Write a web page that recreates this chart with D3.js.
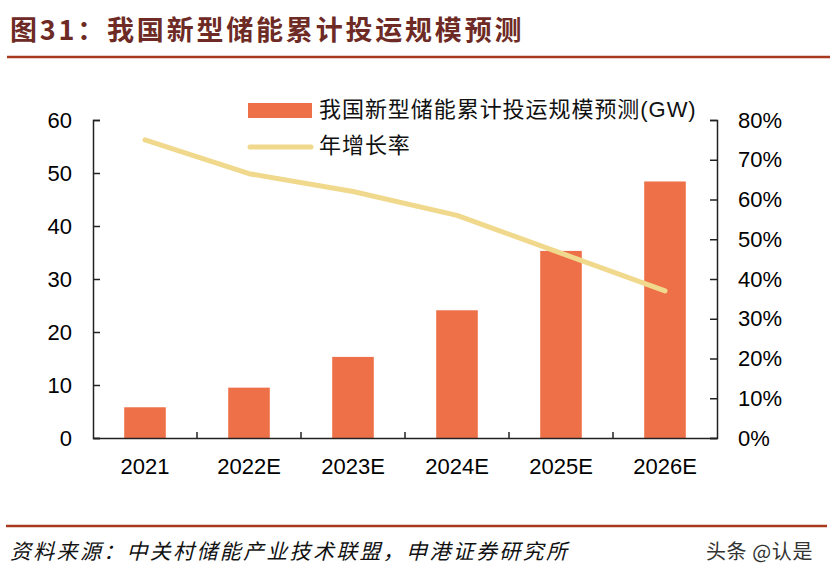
<!DOCTYPE html>
<html><head><meta charset="utf-8">
<script src="https://cdn.jsdelivr.net/npm/d3@7"></script>
<style>
html,body{margin:0;padding:0;background:#fff;}
svg{display:block;}
</style></head>
<body>
<svg id="chart" width="832" height="588"></svg>
<script>
const categories = ["2021","2022E","2023E","2024E","2025E","2026E"];
const capacityGW = [5.8, 9.5, 15.3, 24.1, 35.3, 48.4];
const growthRate = [0.75, 0.665, 0.62, 0.56, 0.465, 0.37];
const leftTicks = [0,10,20,30,40,50,60];
const rightTicks = [0,0.1,0.2,0.3,0.4,0.5,0.6,0.7,0.8];
const seriesNames = ["我国新型储能累计投运规模预测(GW)", "年增长率"];
const titleText = "图31：我国新型储能累计投运规模预测";
const sourceText = "资料来源：中关村储能产业技术联盟，申港证券研究所";
const watermark = "头条 @认是";

const svg = d3.select("#chart");
const sans = "'Liberation Sans', Arial, 'Noto Sans CJK SC', sans-serif";
const cjk = "'Noto Sans CJK SC', 'Liberation Sans', sans-serif";
const barColor = "#EE7049", lineColor = "#F0D98C", axisColor = "#222";

// Title
svg.append("text").attr("x", 10).attr("y", 33).attr("dominant-baseline","middle")
  .attr("font-family", cjk).attr("font-weight", 700).attr("font-size", 27)
  .attr("letter-spacing", 2.8).attr("fill", "#6E2A24").text(titleText);
svg.append("line").attr("x1", 7).attr("x2", 830).attr("y1", 57).attr("y2", 57)
  .attr("stroke", "#A8391C").attr("stroke-width", 2.5);

// Scales
const xb = d3.scaleBand().domain(categories).range([93, 717]);
const yL = d3.scaleLinear().domain([0, 60]).range([438, 120]);
const yR = d3.scaleLinear().domain([0, 0.8]).range([438, 120]);

// Bars
svg.append("g").selectAll("rect").data(categories).join("rect")
  .attr("x", d => xb(d) + xb.bandwidth()/2 - xb.bandwidth()*0.2)
  .attr("width", xb.bandwidth()*0.4)
  .attr("y", (d,i) => yL(capacityGW[i]))
  .attr("height", (d,i) => yL(0) - yL(capacityGW[i]))
  .attr("fill", barColor);

// Line
const line = d3.line().x((d,i) => xb(categories[i]) + xb.bandwidth()/2).y(d => yR(d));
svg.append("path").datum(growthRate).attr("d", line).attr("fill","none")
  .attr("stroke", lineColor).attr("stroke-width", 5).attr("stroke-linecap","round").attr("stroke-linejoin","round");

// Axes
const axL = svg.append("g").attr("transform","translate(93,0)")
  .call(d3.axisLeft(yL).tickValues(leftTicks).tickSize(-7).tickPadding(21).tickFormat(d3.format("d")));
const axR = svg.append("g").attr("transform","translate(717,0)")
  .call(d3.axisRight(yR).tickValues(rightTicks).tickSize(-7).tickPadding(21).tickFormat(d3.format(".0%")));
const axB = svg.append("g").attr("transform","translate(0,438)")
  .call(d3.axisBottom(xb).tickSize(0).tickPadding(20));
svg.append("g").selectAll("line").data(categories.slice(1)).join("line")
  .attr("x1", d => xb(d)).attr("x2", d => xb(d)).attr("y1", 438).attr("y2", 432)
  .attr("stroke", axisColor).attr("stroke-width", 1.5);

[axL, axR, axB].forEach(a => {
  a.select(".domain").attr("stroke", axisColor).attr("stroke-width", 1.5);
  a.selectAll(".tick line").attr("stroke", axisColor).attr("stroke-width", 1.5);
  a.selectAll("text").attr("font-family", sans).attr("font-size", 22).attr("fill", "#000");
});
axB.selectAll("text").attr("dy", "0.71em");

// Legend
const lg = svg.append("g");
lg.append("rect").attr("x", 248).attr("y", 103).attr("width", 64).attr("height", 15).attr("fill", barColor);
lg.append("text").attr("x", 319).attr("y", 111).attr("dominant-baseline","middle")
  .attr("font-family", sans).attr("font-size", 22).attr("letter-spacing", 0.95).attr("fill","#111").text(seriesNames[0]);
lg.append("line").attr("x1", 250).attr("x2", 311).attr("y1", 147).attr("y2", 147)
  .attr("stroke", lineColor).attr("stroke-width", 5).attr("stroke-linecap","round");
lg.append("text").attr("x", 319).attr("y", 147).attr("dominant-baseline","middle")
  .attr("font-family", sans).attr("font-size", 22).attr("letter-spacing", 0.95).attr("fill","#111").text(seriesNames[1]);

// Footer
svg.append("line").attr("x1", 6).attr("x2", 827).attr("y1", 526).attr("y2", 526)
  .attr("stroke", "#A8391C").attr("stroke-width", 2.5);
svg.append("text").attr("x", 10).attr("y", 553).attr("dominant-baseline","middle")
  .attr("font-family", cjk).attr("font-style","italic").attr("font-size", 21)
  .attr("letter-spacing", 2.3).attr("fill","#111").text(sourceText);
svg.append("text").attr("x", 706).attr("y", 554).attr("dominant-baseline","middle")
  .attr("font-family", cjk).attr("font-size", 20).attr("letter-spacing", 0.6).attr("fill","#333").text(watermark);
</script>
</body></html>
